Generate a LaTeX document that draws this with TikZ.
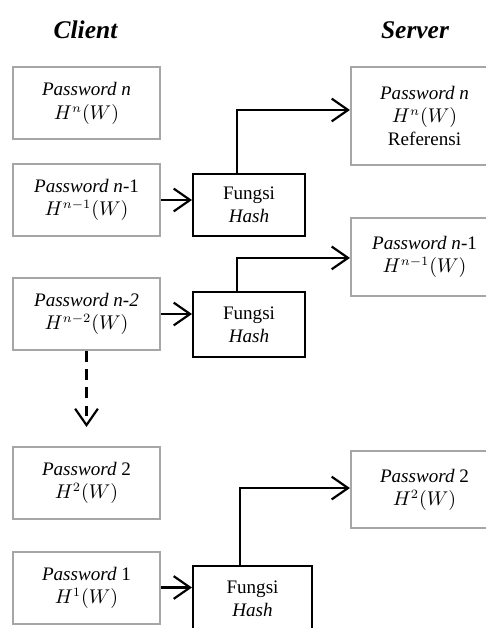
\documentclass[tikz,border=0pt]{standalone}
\usepackage{fontspec}
\setmainfont{Liberation Serif}
\usepackage{amsmath}
\usepackage{xcolor}
\usepackage{tikz}
\usetikzlibrary{arrows.meta}

\definecolor{boxgray}{HTML}{A6A6A6}

\begin{document}
\begin{tikzpicture}[x=0.55pt, y=-0.55pt, >={Straight Barb[length=9pt, width=12.5pt]}, font=\fontsize{10.5}{12.8}\selectfont]
  % ------- styles -------
  \tikzstyle{pwbox}=[draw=boxgray, line width=1.1pt, align=center, inner sep=0pt, minimum width=80.9pt, minimum height=39.6pt]
  \tikzstyle{srvbox}=[pwbox, minimum height=42.6pt]
  \tikzstyle{hashbox}=[draw, line width=1.1pt, align=center, inner sep=0pt, minimum width=61.6pt, minimum height=34pt]
  \tikzstyle{head}=[font=\fontsize{14}{16}\selectfont\bfseries\itshape]
  \tikzstyle{link}=[draw, line width=1.2pt, ->]

  \useasboundingbox (0,0) rectangle (486,628);
  \clip (0,0) rectangle (486,628);

  % ------- headings -------
  \node[head] (client) at (85.5,30) {Client};
  \node[head] (server) at (415,30) {Server};

  % ------- client side -------
  \node[pwbox] (c1) at (86.5,103.5) {\textit{Password n}\\$H^{n}(W)$};
  \node[pwbox] (c2) at (86.5,200)   {\textit{Password n}-1\\$H^{n-1}(W)$};
  \node[pwbox] (c3) at (86.5,314)   {\textit{Password n-2}\\$H^{n-2}(W)$};
  \node[pwbox] (c4) at (86.5,482.5) {\textit{Password} 2\\$H^{2}(W)$};
  \node[pwbox] (c5) at (86.5,587.5) {\textit{Password} 1\\$H^{1}(W)$};
  \coordinate (more) at (86.5,427);

  % ------- hash functions -------
  \node[hashbox] (h1) at (249,205)   {Fungsi\\\textit{Hash}};
  \node[hashbox, minimum height=35.8pt] (h2) at (249,324.5) {Fungsi\\\textit{Hash}};
  \node[hashbox, minimum width=65.5pt, minimum height=35.8pt] (h3) at (252.5,598.5) {Fungsi\\\textit{Hash}};

  % ------- server side -------
  \node[srvbox, minimum height=53.9pt] (s1) at (424.5,116) {\textit{Password n}\\$H^{n}(W)$\\Referensi};
  \node[srvbox] (s2) at (424.5,257)   {\textit{Password n}-1\\$H^{n-1}(W)$};
  \node[srvbox] (s3) at (424.5,489.5) {\textit{Password} 2\\$H^{2}(W)$};

  % ------- arrows -------
  \draw[link] (c2.east) -- (c2.east -| h1.west);
  \draw[link] (c3.east) -- (c3.east -| h2.west);
  \draw[link] (c5.east) -- (c5.east -| h3.west);
  \draw[link, dashed, dash pattern=on 6pt off 4pt] (c3) -- (more);

  \draw[link] ([xshift=-6.6pt]h1.north) |- ([yshift=3.3pt]s1.west);
  \draw[link] ([xshift=-6.6pt]h2.north) |- ([yshift=-0.5pt]s2.west);
  \draw[link] ([xshift=-6.9pt]h3.north) |- ([yshift=0.8pt]s3.west);

\end{tikzpicture}
\end{document}
